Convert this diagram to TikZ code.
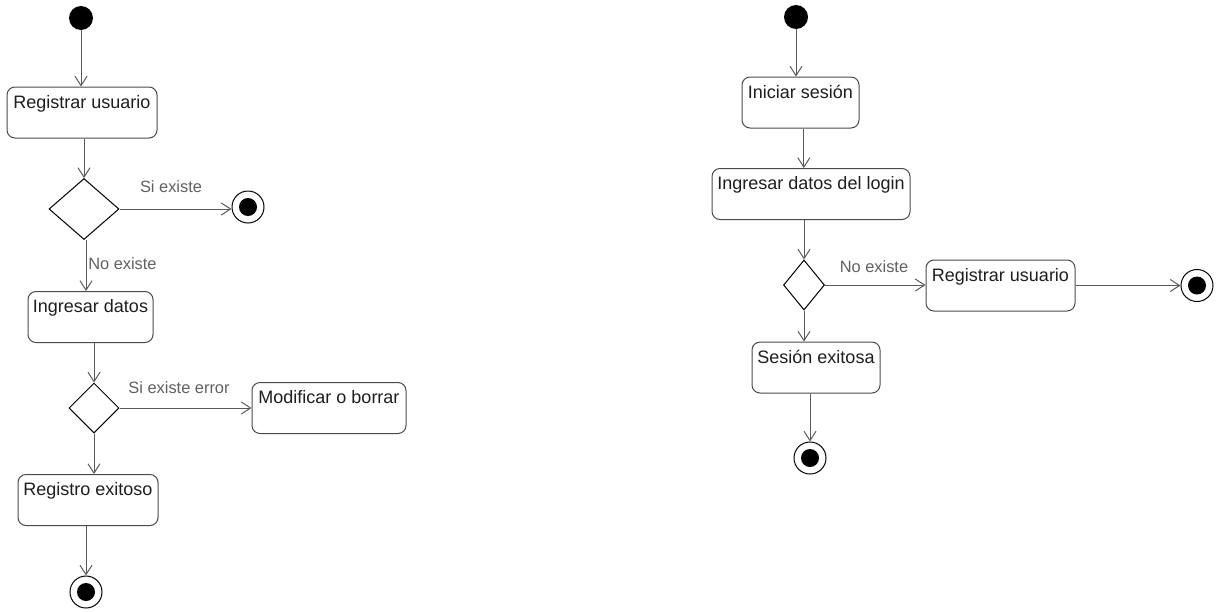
\documentclass[tikz,border=0pt]{standalone}
\usepackage{fontspec}
\setmainfont{Liberation Sans}
\usetikzlibrary{arrows.meta,shapes.geometric}
\definecolor{linec}{HTML}{5A5A5A}
\definecolor{boxc}{HTML}{4A4A4A}
\definecolor{textc}{HTML}{1E1E1E}
\definecolor{guardc}{HTML}{606060}
\begin{document}
\begin{tikzpicture}[x=0.75pt,y=-0.75pt,
  activity/.style={draw=boxc, line width=0.75pt, rounded corners=6pt, fill=white,
    text=textc, font=\fontsize{13.5}{16}\selectfont,
    inner xsep=0pt, inner ysep=0pt, text height=16pt, text depth=22.25pt},
  decision/.style={draw=black, line width=0.75pt, diamond, inner sep=0pt},
  startnode/.style={circle, fill=black, inner sep=0pt, minimum size=18pt},
  endnode/.style={circle, draw=black, line width=0.75pt, inner sep=0pt, minimum size=24pt,
    path picture={\fill[black] (path picture bounding box.center) circle (6.75pt);}},
  flow/.style={draw=linec, line width=0.75pt, -{Straight Barb[length=7pt,width=9pt]}},
  guard/.style={text=guardc, font=\fontsize{12.3}{14}\selectfont, inner sep=0pt}]
\useasboundingbox (0,0) rectangle (1220,611);

% ---- registration flow ----
\node[startnode] (s1) at (81,18) {};
\node[activity, minimum width=150*0.75pt] (reg) at (82,112.5) {Registrar usuario};
\node[decision, minimum width=70*0.75pt, minimum height=61*0.75pt] (d1) at (84,209) {};
\node[endnode] (f1) at (248,207) {};
\node[activity, minimum width=125*0.75pt] (ing) at (90.5,317) {Ingresar datos};
\node[decision, minimum width=50*0.75pt, minimum height=50*0.75pt] (d2) at (94,408) {};
\node[activity, minimum width=154*0.75pt] (mod) at (329,408) {Modificar o borrar};
\node[activity, minimum width=140*0.75pt] (rex) at (88,500) {Registro exitoso};
\node[endnode] (f2) at (86,592) {};

\node[guard] (g1) at (171,187) {Si existe};
\node[guard, anchor=west] (g2) at (88,264) {No existe};
\node[guard] (g3) at (179,388) {Si existe error};

\draw[flow] (s1) -- (s1 |- reg.north);
\draw[flow] (d1.north |- reg.south) -- (d1.north);
\draw[flow] (d1.east) -- (d1.east -| f1.west);
\draw[flow] ([xshift=1.5pt]d1.south) -- ([xshift=1.5pt]d1.south |- ing.north);
\draw[flow] (d2.north |- ing.south) -- (d2.north);
\draw[flow] (d2.east) -- (d2.east -| mod.west);
\draw[flow] (d2.south) -- (d2.south |- rex.north);
\draw[flow] (f2.north |- rex.south) -- (f2.north);

% ---- login flow ----
\node[startnode] (s2) at (796,17) {};
\node[activity, minimum width=117*0.75pt] (ini) at (800.5,102.5) {Iniciar sesión};
\node[activity, minimum width=198*0.75pt] (log) at (811,194) {Ingresar datos del login};
\node[decision, minimum width=41*0.75pt, minimum height=50*0.75pt] (d3) at (804,285) {};
\node[activity, minimum width=149*0.75pt] (reg2) at (1000.5,285.5) {Registrar usuario};
\node[endnode] (f3) at (1197,285.5) {};
\node[activity, minimum width=128*0.75pt] (ses) at (816,367.5) {Sesión exitosa};
\node[endnode] (f4) at (810,458) {};

\node[guard] (g4) at (874,267) {No existe};

\draw[flow] (s2) -- (s2 |- ini.north);
\draw[flow] ([xshift=2.5pt]ini.south) -- ([xshift=2.5pt]ini.south |- log.north);
\draw[flow] (d3.north |- log.south) -- (d3.north);
\draw[flow] (d3.east) -- (d3.east -| reg2.west);
\draw[flow] (reg2.east) -- (f3.west);
\draw[flow] (d3.south) -- (d3.south |- ses.north);
\draw[flow] (f4.north |- ses.south) -- (f4.north);
\end{tikzpicture}
\end{document}
